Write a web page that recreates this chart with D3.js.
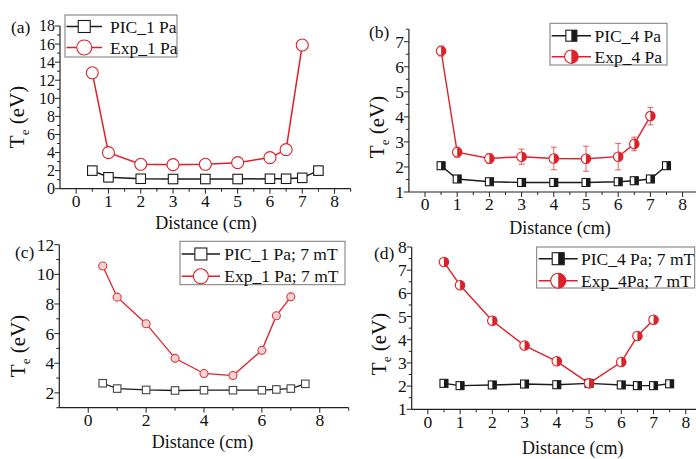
<!DOCTYPE html>
<html><head><meta charset="utf-8">
<script src="https://cdn.jsdelivr.net/npm/d3@7"></script>
<style>
body{margin:0;background:#fff;}
svg{display:block;}
text{font-family:'Liberation Serif','Times New Roman',Times,'DejaVu Serif',serif;}
</style></head>
<body><svg id="c" width="696" height="459"></svg>
<script>
// ---------- data ----------
const xPIC = [0.5, 1, 2, 3, 4, 5, 6, 6.5, 7, 7.5];
const xExp = [0.5, 1, 2, 3, 4, 5, 6, 6.5, 7];

const picA = [2.0, 1.26, 1.1, 1.07, 1.07, 1.07, 1.1, 1.1, 1.2, 2.0];
const expA = [12.82, 3.99, 2.7, 2.66, 2.7, 2.88, 3.44, 4.32, 15.89];

const picB = [2.05, 1.52, 1.41, 1.38, 1.38, 1.38, 1.41, 1.45, 1.52, 2.05];
const expB = [6.63, 2.59, 2.34, 2.41, 2.34, 2.33, 2.41, 2.92, 4.03];
const errB = [0.2, 0.2, 0.2, 0.3, 0.45, 0.5, 0.53, 0.27, 0.35];

const picC = [2.65, 2.29, 2.2, 2.16, 2.18, 2.18, 2.18, 2.23, 2.29, 2.61];
const expC = [10.56, 8.46, 6.67, 4.33, 3.31, 3.17, 4.87, 7.21, 8.48];

const picD = [2.12, 2.02, 2.05, 2.09, 2.06, 2.12, 2.05, 2.02, 2.02, 2.1];
const expD = [7.35, 6.35, 4.82, 3.75, 3.07, 2.12, 3.04, 4.16, 4.86];

const panelLabels = ["(a)", "(b)", "(c)", "(d)"];
const legendA = ["PIC_1 Pa", "Exp_1 Pa"];
const legendB = ["PIC_4 Pa", "Exp_4 Pa"];
const legendC = ["PIC_1 Pa; 7 mT", "Exp_1 Pa; 7 mT"];
const legendD = ["PIC_4 Pa; 7 mT", "Exp_4Pa; 7 mT"];
const xTitle = "Distance (cm)";

// ---------- drawing ----------
const FONT = "'Liberation Serif','Times New Roman',Times,'DejaVu Serif',serif";
const svg = d3.select("#c").attr("font-family", FONT);
const RED = "#dc2228", BLK = "#1a1a1a", AX = "#222";
const FS = 17.5;

function txt(g, x, y, s, size) {
  return g.append("text").attr("x", x).attr("y", y).attr("font-family", FONT)
    .attr("font-size", size).attr("fill", "#111").text(s);
}

function marker(g, type, cx, cy, s, opt) {
  if (type === "sq" || type === "sqh") {
    g.append("rect").attr("x", cx - s/2).attr("y", cy - s/2).attr("width", s).attr("height", s)
      .attr("fill", "#fff").attr("stroke", opt.stroke || BLK).attr("stroke-width", 1.1);
    if (type === "sqh") {
      g.append("rect").attr("x", cx).attr("y", cy - s/2).attr("width", s/2).attr("height", s)
        .attr("fill", BLK);
    }
  } else {
    const r = s/2;
    g.append("circle").attr("cx", cx).attr("cy", cy).attr("r", r)
      .attr("fill", opt.fill || "#fff").attr("stroke", opt.stroke || RED).attr("stroke-width", 1.1);
    if (type === "cih") {
      g.append("path").attr("d", `M${cx},${cy - r} A${r},${r} 0 0 1 ${cx},${cy + r} Z`).attr("fill", RED);
    }
  }
}

function panel(cfg) {
  const g = svg.append("g");
  const x = d3.scaleLinear().domain(cfg.xd).range(cfg.xr);
  const y = d3.scaleLinear().domain(cfg.yd).range(cfg.yr);
  const x0 = cfg.xr[0], y0 = cfg.yr[0];

  g.append("line").attr("x1", x0).attr("x2", cfg.xr[1]).attr("y1", y0).attr("y2", y0)
    .attr("stroke", AX).attr("stroke-width", 1.2);
  g.append("line").attr("x1", x0).attr("x2", x0).attr("y1", y0).attr("y2", cfg.yr[1])
    .attr("stroke", AX).attr("stroke-width", 1.2);

  const xMinor = d3.range(cfg.xd[0], cfg.xd[1] + 1e-9, cfg.xmin);
  xMinor.forEach(v => {
    const major = Math.abs(v / cfg.xmaj - Math.round(v / cfg.xmaj)) < 1e-6;
    if (Math.abs(v - cfg.xd[0]) < 1e-9) return;
    g.append("line").attr("x1", x(v)).attr("x2", x(v)).attr("y1", y0).attr("y2", y0 + (major ? 5 : 3))
      .attr("stroke", AX).attr("stroke-width", 1);
    if (major && v >= 0 && v <= 8) {
      txt(g, x(v), y0 + cfg.xlab, d3.format("d")(v), FS).attr("text-anchor", "middle");
    }
  });
  const yMinor = d3.range(cfg.yd[0], cfg.yd[1] + 1e-9, cfg.ymin);
  yMinor.forEach(v => {
    const major = Math.abs(v / cfg.ymaj - Math.round(v / cfg.ymaj)) < 1e-6;
    g.append("line").attr("x1", x0).attr("x2", x0 - (major ? 5 : 3)).attr("y1", y(v)).attr("y2", y(v))
      .attr("stroke", AX).attr("stroke-width", 1);
    if (major && v <= cfg.ytop) {
      txt(g, x0 - 5, y(v) + cfg.yfs * 0.34, d3.format("d")(v), cfg.yfs).attr("text-anchor", "end");
    }
  });

  txt(g, cfg.xt[0], cfg.xt[1], xTitle, 18).attr("text-anchor", "middle");
  const yt = g.append("text").attr("transform", `translate(${cfg.yt[0]},${cfg.yt[1]}) rotate(-90)`)
    .attr("text-anchor", "middle").attr("font-family", FONT).attr("font-size", 21).attr("fill", "#111");
  yt.append("tspan").text("T");
  yt.append("tspan").attr("font-size", 13).attr("dy", 5).text("e");
  yt.append("tspan").attr("dy", -5).text(" (eV)");
  txt(g, cfg.pl[0], cfg.pl[1], cfg.label, FS);

  if (cfg.err) {
    cfg.expX.forEach((xv, i) => {
      const e = cfg.err[i], v = cfg.exp[i];
      g.append("line").attr("x1", x(xv)).attr("x2", x(xv)).attr("y1", y(v - e)).attr("y2", y(v + e))
        .attr("stroke", RED).attr("stroke-width", 0.9).attr("opacity", 0.8);
      [v - e, v + e].forEach(w => g.append("line").attr("x1", x(xv) - 3).attr("x2", x(xv) + 3)
        .attr("y1", y(w)).attr("y2", y(w)).attr("stroke", RED).attr("stroke-width", 0.9).attr("opacity", 0.8));
    });
  }

  const line = d3.line().x(d => x(d[0])).y(d => y(d[1]));
  g.append("path").attr("d", line(cfg.picX.map((v, i) => [v, cfg.pic[i]])))
    .attr("fill", "none").attr("stroke", BLK).attr("stroke-width", cfg.lw);
  g.append("path").attr("d", line(cfg.expX.map((v, i) => [v, cfg.exp[i]])))
    .attr("fill", "none").attr("stroke", RED).attr("stroke-width", cfg.lw);

  cfg.picX.forEach((v, i) => marker(g, cfg.sq, x(v), y(cfg.pic[i]), cfg.ss, {stroke: cfg.sqStroke}));
  cfg.expX.forEach((v, i) => marker(g, cfg.ci, x(v), y(cfg.exp[i]), cfg.cs, {fill: cfg.ciFill, stroke: cfg.ciStroke}));

  const L = cfg.leg;
  g.append("rect").attr("x", L.x).attr("y", L.y).attr("width", L.w).attr("height", L.h)
    .attr("fill", "#fff").attr("stroke", "#777").attr("stroke-width", 1);
  cfg.legText.forEach((t, i) => {
    const cy = L.rows[i];
    g.append("line").attr("x1", L.l1).attr("x2", L.l2).attr("y1", cy).attr("y2", cy)
      .attr("stroke", i ? RED : BLK).attr("stroke-width", 1.4);
    const mx = (L.l1 + L.l2) / 2;
    if (i === 0) marker(g, cfg.sq, mx, cy, L.ms, {});
    else marker(g, cfg.ci, mx, cy, L.mc, {});
    txt(g, L.tx, cy + 6, t, FS);
  });
}

panel({
  xd: [-0.5, 8.5], xr: [60, 350.7], yd: [0, 18], yr: [188.7, 26], ytop: 18, yfs: 16,
  xmaj: 1, xmin: 0.5, ymaj: 2, ymin: 1, xlab: 18,
  xt: [206, 229], yt: [24, 117], pl: [11, 33], label: panelLabels[0],
  picX: xPIC, pic: picA, expX: xExp, exp: expA,
  sq: "sq", ci: "ci", ss: 9.5, cs: 12, lw: 1.5,
  legText: legendA,
  leg: {x: 65, y: 15, w: 112, h: 42, rows: [26.5, 47.5], l1: 66.5, l2: 102, tx: 110, ms: 12, mc: 15}
});

panel({
  xd: [-0.5, 8.5], xr: [408.9, 698.7], yd: [1, 7.5], yr: [192, 29.2], ytop: 7, yfs: FS,
  xmaj: 1, xmin: 0.5, ymaj: 1, ymin: 0.5, xlab: 18,
  xt: [560, 234], yt: [384, 127], pl: [369, 38], label: panelLabels[1],
  picX: xPIC, pic: picB, expX: xExp, exp: expB, err: errB,
  sq: "sqh", ci: "cih", ss: 8, cs: 9.5, lw: 1.4,
  legText: legendB,
  leg: {x: 550, y: 23.3, w: 117, h: 41.7, rows: [35.7, 56.7], l1: 551.7, l2: 591, tx: 594.5, ms: 11, mc: 13.5}
});

panel({
  xd: [-1, 9], xr: [59.3, 348.7], yd: [1, 12], yr: [407.7, 244.7], ytop: 12, yfs: FS,
  xmaj: 2, xmin: 1, ymaj: 2, ymin: 1, xlab: 18.5,
  xt: [202.5, 448], yt: [25, 346], pl: [15, 258], label: panelLabels[2],
  picX: xPIC, pic: picC, expX: xExp, exp: expC,
  sq: "sq", ci: "ci", ss: 7.5, cs: 8, lw: 1.3, sqStroke: "#444", ciFill: "#f7d2d2", ciStroke: "#d83a3f",
  legText: legendC,
  leg: {x: 180, y: 241.3, w: 165, h: 43.4, rows: [254, 276.3], l1: 181.7, l2: 220, tx: 224.3, ms: 12, mc: 15}
});

panel({
  xd: [-0.5, 8.5], xr: [411.7, 701.9], yd: [1, 8], yr: [409.3, 247], ytop: 8, yfs: FS,
  xmaj: 1, xmin: 0.5, ymaj: 1, ymin: 0.5, xlab: 18.5,
  xt: [572.7, 454], yt: [386, 344], pl: [374, 259], label: panelLabels[3],
  picX: xPIC, pic: picD, expX: xExp, exp: expD,
  sq: "sqh", ci: "cih", ss: 8, cs: 9.5, lw: 1.4,
  legText: legendD,
  leg: {x: 536.7, y: 247, w: 158, h: 41, rows: [258.7, 280.7], l1: 538.7, l2: 577.7, tx: 581, ms: 12, mc: 15}
});
</script></body></html>
